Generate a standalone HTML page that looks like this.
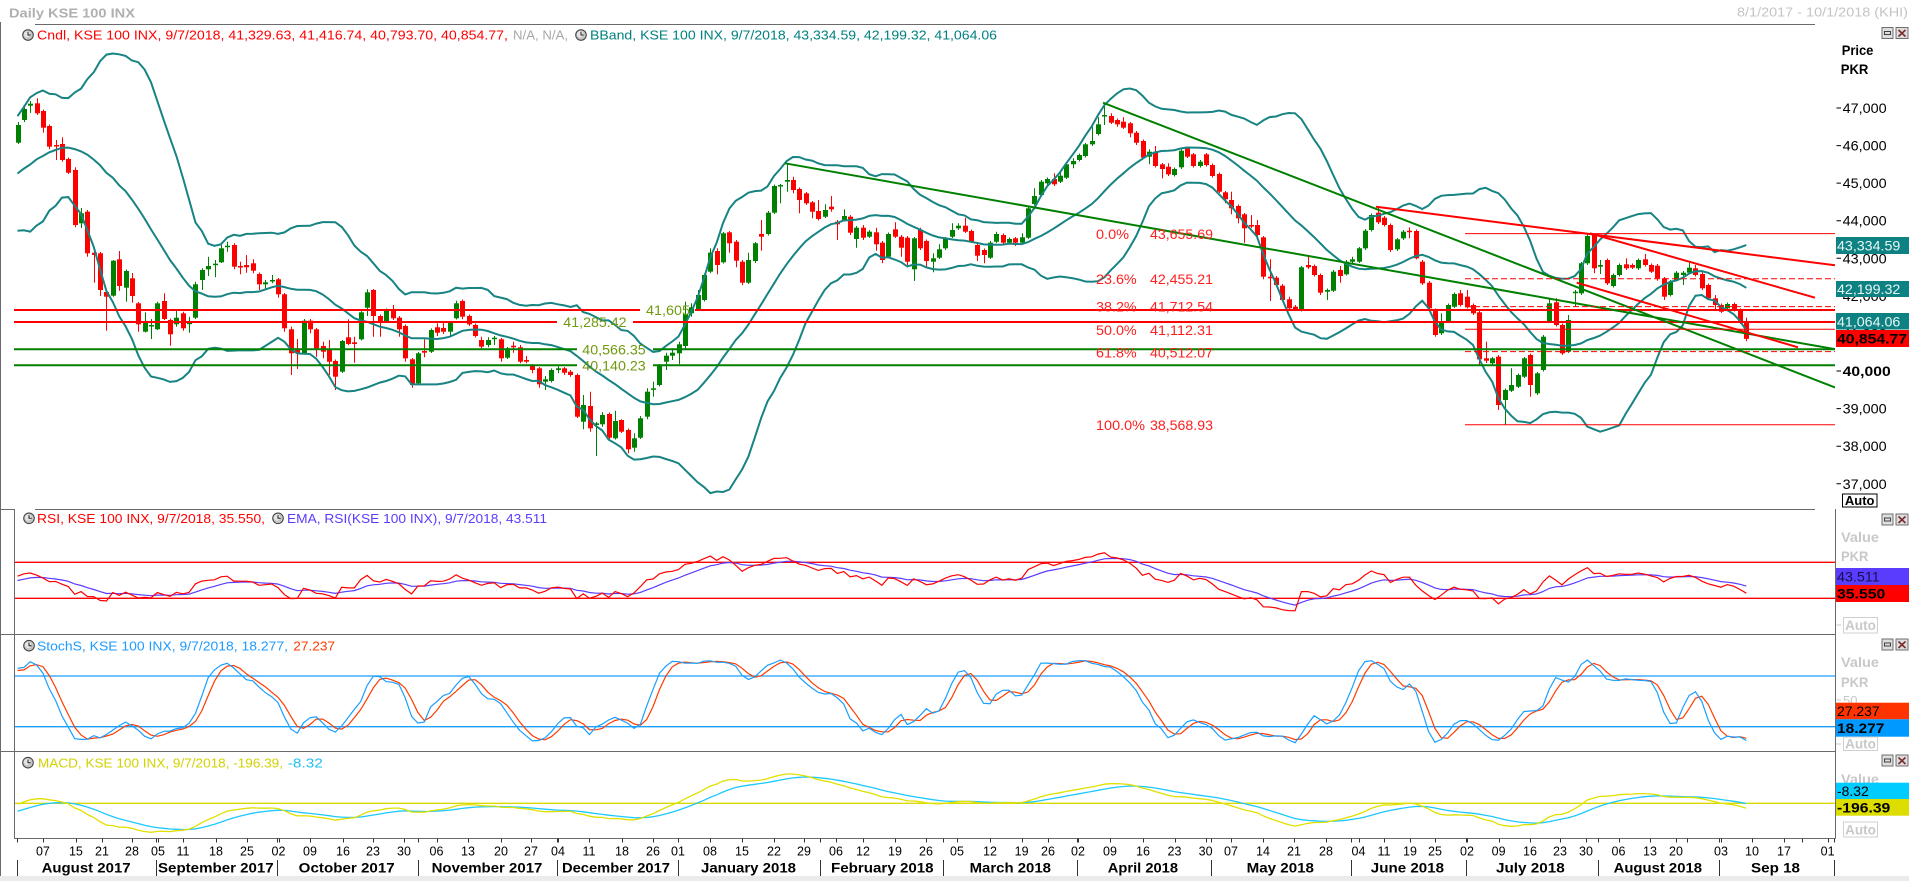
<!DOCTYPE html>
<html><head><meta charset="utf-8">
<style>
html,body{margin:0;padding:0;background:#fff;}
svg{display:block;font-family:"Liberation Sans",Arial,sans-serif;}
</style></head>
<body>
<svg id="s" width="1909" height="881" viewBox="0 0 1909 881" xmlns="http://www.w3.org/2000/svg">
<defs>
<symbol id="clk" viewBox="-6 -6 12 12" overflow="visible">
<circle cx="0" cy="0" r="5.3" fill="#c4c4c4" stroke="#3c3c3c" stroke-width="1"/>
<circle cx="-0.8" cy="-0.8" r="3.2" fill="#e6e6e6"/>
<path d="M0 -3.2 V0 H2.6" stroke="#202020" stroke-width="1" fill="none"/>
</symbol>
<symbol id="btn" overflow="visible">
<rect x="0.5" y="0.5" width="11" height="11" fill="#dedede" stroke="#6e6e6e"/>
<rect x="3" y="4.5" width="6" height="3" fill="none" stroke="#404040"/>
<rect x="14.5" y="0.5" width="12" height="11" fill="#dedede" stroke="#6e6e6e"/>
<path d="M17 3 L24 9.5 M24 3 L17 9.5" stroke="#7a2a2a" stroke-width="1.6"/>
</symbol>
<clipPath id="cm"><rect x="14" y="25" width="1821" height="484"/></clipPath>
<clipPath id="cr"><rect x="15" y="510" width="1820" height="124"/></clipPath>
<clipPath id="cs"><rect x="15" y="635" width="1820" height="116"/></clipPath>
<clipPath id="cd"><rect x="15" y="752" width="1820" height="86"/></clipPath>
</defs>

<!-- header -->
<text x="9" y="17.5" font-size="13" font-weight="bold" fill="#b0b0b0" textLength="126" lengthAdjust="spacingAndGlyphs">Daily KSE 100 INX</text>
<text x="1908" y="16.5" font-size="13" fill="#c4c4c4" text-anchor="end" textLength="171" lengthAdjust="spacingAndGlyphs">8/1/2017 - 10/1/2018 (KHI)</text>

<!-- frames -->
<g stroke="#6a6a6a" stroke-width="1" fill="none">
<path d="M35 24.5 H1815 M0 509.5 H14.5 M35 509.5 H1815 M0 634.5 H1835.5 M0 751.5 H1835.5 M14 838.5 H1835.5"/>
<path d="M0.5 22 V876 M14.5 509 V838.5 M1835.5 509 V838.5"/>
</g>

<!-- legends -->
<use href="#clk" x="22" y="29" width="12" height="12"/>
<text x="37" y="39.5" font-size="13" fill="#ff0000" textLength="471" lengthAdjust="spacingAndGlyphs">Cndl, KSE 100 INX, 9/7/2018, 41,329.63, 41,416.74, 40,793.70, 40,854.77,</text>
<text x="513" y="39.5" font-size="13" fill="#a8a8a8" textLength="55" lengthAdjust="spacingAndGlyphs">N/A, N/A,</text>
<use href="#clk" x="575" y="29" width="12" height="12"/>
<text x="590" y="39.5" font-size="13" fill="#008080" textLength="407" lengthAdjust="spacingAndGlyphs">BBand, KSE 100 INX, 9/7/2018, 43,334.59, 42,199.32, 41,064.06</text>

<use href="#clk" x="23" y="512.3" width="12" height="12"/>
<text x="37" y="523" font-size="13" fill="#ff0000" textLength="228" lengthAdjust="spacingAndGlyphs">RSI, KSE 100 INX, 9/7/2018, 35.550,</text>
<use href="#clk" x="272" y="512.3" width="12" height="12"/>
<text x="287" y="523" font-size="13" fill="#5a3cff" textLength="260" lengthAdjust="spacingAndGlyphs">EMA, RSI(KSE 100 INX), 9/7/2018, 43.511</text>

<use href="#clk" x="23" y="639.7" width="12" height="12"/>
<text x="37" y="650.4" font-size="13" fill="#1e9bff" textLength="251" lengthAdjust="spacingAndGlyphs">StochS, KSE 100 INX, 9/7/2018, 18.277,</text>
<text x="293.3" y="650.4" font-size="13" fill="#ff3c00" textLength="41.7" lengthAdjust="spacingAndGlyphs">27.237</text>

<use href="#clk" x="22" y="756.7" width="12" height="12"/>
<text x="38" y="767.4" font-size="13" fill="#d2d200" textLength="245" lengthAdjust="spacingAndGlyphs">MACD, KSE 100 INX, 9/7/2018, -196.39,</text>
<text x="287.8" y="767.4" font-size="13" fill="#1ec0f0" textLength="35" lengthAdjust="spacingAndGlyphs">-8.32</text>

<!-- main plot dynamic -->
<g clip-path="url(#cm)">
<g id="cand"></g>
<g id="bb" fill="none" stroke="#178383" stroke-width="2"></g>
<g fill="none" stroke-width="2">
<path d="M14 310 H640 M695 310 H1835 M14 322 H557 M633 322 H1835" stroke="#ff0000"/>
<path d="M14 349.3 H577 M653 349.3 H1835 M14 365.3 H577 M653 365.3 H1835" stroke="#008000"/>
<path d="M785 163.3 L1835 349.2 M1103 102.7 L1835 387.5" stroke="#008000"/>
<path d="M1376 206.7 L1835 265.3 M1590 233.3 L1815 297.7 M1576.7 282.7 L1798 347.3" stroke="#ff0000"/>
</g>
<g fill="none" stroke="#ff0000" stroke-width="1">
<path d="M1465 233.6 H1835 M1465 329.2 H1835 M1465 424.8 H1835"/>
<path d="M1465 278.7 H1835 M1465 306.6 H1835 M1465 351.6 H1835" stroke-dasharray="6 3"/>
</g>
</g>
<g font-size="14" fill="#6f9a10">
<text x="646" y="315" textLength="44" lengthAdjust="spacingAndGlyphs">41,605</text>
<text x="563.3" y="327" textLength="63.3" lengthAdjust="spacingAndGlyphs">41,285.42</text>
<text x="582.3" y="354.5" textLength="63.4" lengthAdjust="spacingAndGlyphs">40,566.35</text>
<text x="582.3" y="370.5" textLength="63.4" lengthAdjust="spacingAndGlyphs">40,140.23</text>
</g>
<g font-size="14" fill="#ff2020">
<text x="1096" y="239" textLength="33" lengthAdjust="spacingAndGlyphs">0.0%</text>
<text x="1150" y="239" textLength="63" lengthAdjust="spacingAndGlyphs">43,655.69</text>
<text x="1096" y="284" textLength="40.7" lengthAdjust="spacingAndGlyphs">23.6%</text>
<text x="1150" y="284" textLength="63" lengthAdjust="spacingAndGlyphs">42,455.21</text>
<text x="1096" y="311.7" textLength="40.7" lengthAdjust="spacingAndGlyphs">38.2%</text>
<text x="1150" y="311.7" textLength="63" lengthAdjust="spacingAndGlyphs">41,712.54</text>
<text x="1096" y="335" textLength="40.7" lengthAdjust="spacingAndGlyphs">50.0%</text>
<text x="1150" y="335" textLength="63" lengthAdjust="spacingAndGlyphs">41,112.31</text>
<text x="1096" y="357.3" textLength="40.7" lengthAdjust="spacingAndGlyphs">61.8%</text>
<text x="1150" y="357.3" textLength="63" lengthAdjust="spacingAndGlyphs">40,512.07</text>
<text x="1096" y="430" textLength="49" lengthAdjust="spacingAndGlyphs">100.0%</text>
<text x="1150" y="430" textLength="63" lengthAdjust="spacingAndGlyphs">38,568.93</text>
</g>

<!-- lower panel reference lines -->
<path d="M15 562.3 H1835 M15 598.3 H1835" stroke="#ff0000" stroke-width="1.3"/>
<path d="M15 676 H1835 M15 726.7 H1835" stroke="#1a9fff" stroke-width="1.3"/>
<path d="M15 803.3 H1835" stroke="#dada00" stroke-width="1.3"/>
<g id="rsi" clip-path="url(#cr)" fill="none" stroke-width="1.2"></g>
<g id="sto" clip-path="url(#cs)" fill="none" stroke-width="1.2"></g>
<g id="mac" clip-path="url(#cd)" fill="none" stroke-width="1.3"></g>

<!-- right axis main -->
<use href="#btn" x="1881.5" y="27"/>
<text x="1841.7" y="55" font-size="14" font-weight="bold" fill="#000" textLength="31.7" lengthAdjust="spacingAndGlyphs">Price</text>
<text x="1840.7" y="74" font-size="14" font-weight="bold" fill="#000" textLength="27.7" lengthAdjust="spacingAndGlyphs">PKR</text>
<g font-size="14" fill="#000">
<path d="M1836.5 108 H1841 M1836.5 145.6 H1841 M1836.5 183.1 H1841 M1836.5 220.7 H1841 M1836.5 258.3 H1841 M1836.5 295.9 H1841 M1836.5 333.5 H1841 M1836.5 371 H1841 M1836.5 408.6 H1841 M1836.5 446.2 H1841 M1836.5 483.8 H1841" stroke="#000"/>
<text x="1842.7" y="113" textLength="44" lengthAdjust="spacingAndGlyphs">47,000</text>
<text x="1842.7" y="150.6" textLength="44" lengthAdjust="spacingAndGlyphs">46,000</text>
<text x="1842.7" y="188.1" textLength="44" lengthAdjust="spacingAndGlyphs">45,000</text>
<text x="1842.7" y="225.7" textLength="44" lengthAdjust="spacingAndGlyphs">44,000</text>
<text x="1842.7" y="263.3" textLength="44" lengthAdjust="spacingAndGlyphs">43,000</text>
<text x="1842.7" y="300.9" textLength="44" lengthAdjust="spacingAndGlyphs">42,000</text>
<text x="1842.7" y="338.5" textLength="44" lengthAdjust="spacingAndGlyphs">41,000</text>
<text x="1842.7" y="376" font-weight="bold" textLength="48" lengthAdjust="spacingAndGlyphs">40,000</text>
<text x="1842.7" y="413.6" textLength="44" lengthAdjust="spacingAndGlyphs">39,000</text>
<text x="1842.7" y="451.2" textLength="44" lengthAdjust="spacingAndGlyphs">38,000</text>
<text x="1842.7" y="488.8" textLength="44" lengthAdjust="spacingAndGlyphs">37,000</text>
</g>
<rect x="1836" y="237" width="73" height="17" fill="#0e8282"/>
<text x="1837" y="250.5" font-size="14" fill="#e8f6f6" textLength="63.3" lengthAdjust="spacingAndGlyphs">43,334.59</text>
<rect x="1836" y="281" width="73" height="16" fill="#0e8282"/>
<text x="1837" y="294" font-size="14" fill="#e8f6f6" textLength="63.3" lengthAdjust="spacingAndGlyphs">42,199.32</text>
<rect x="1836" y="313" width="73" height="16.5" fill="#0e8282"/>
<text x="1837" y="326.3" font-size="14" fill="#e8f6f6" textLength="63.3" lengthAdjust="spacingAndGlyphs">41,064.06</text>
<rect x="1836" y="330" width="73" height="17" fill="#ff0000"/>
<text x="1837" y="343.5" font-size="14" font-weight="bold" fill="#000" textLength="70" lengthAdjust="spacingAndGlyphs">40,854.77</text>
<rect x="1842.5" y="494" width="34.5" height="13" fill="#fff" stroke="#000"/>
<text x="1859.7" y="505" font-size="13" font-weight="bold" fill="#000" text-anchor="middle">Auto</text>

<!-- RSI axis -->
<use href="#btn" x="1881.5" y="513.5"/>
<text x="1841" y="542" font-size="14" font-weight="bold" fill="#c8c8c8" textLength="38" lengthAdjust="spacingAndGlyphs">Value</text>
<text x="1841" y="561" font-size="14" font-weight="bold" fill="#c8c8c8" textLength="27.3" lengthAdjust="spacingAndGlyphs">PKR</text>
<rect x="1836" y="568" width="73" height="17" fill="#5a3cff"/>
<text x="1837" y="581.5" font-size="14" fill="#12124a" textLength="42.7" lengthAdjust="spacingAndGlyphs">43.511</text>
<rect x="1836" y="585" width="73" height="17" fill="#ff0000"/>
<text x="1837" y="598.5" font-size="14" font-weight="bold" fill="#000" textLength="48.3" lengthAdjust="spacingAndGlyphs">35.550</text>
<path d="M1836.5 625 H1841" stroke="#c8c8c8"/>
<rect x="1843.5" y="617.5" width="34" height="15.5" fill="#fff" stroke="#d0d0d0"/>
<text x="1860.5" y="630" font-size="13.5" font-weight="bold" fill="#c8c8c8" text-anchor="middle">Auto</text>

<!-- Stoch axis -->
<use href="#btn" x="1881.5" y="638.5"/>
<text x="1841" y="667" font-size="14" font-weight="bold" fill="#c8c8c8" textLength="38" lengthAdjust="spacingAndGlyphs">Value</text>
<text x="1841" y="687" font-size="14" font-weight="bold" fill="#c8c8c8" textLength="27.3" lengthAdjust="spacingAndGlyphs">PKR</text>
<path d="M1836.5 700 H1841" stroke="#c8c8c8"/>
<text x="1843" y="705" font-size="13" fill="#c8c8c8">50</text>
<rect x="1836" y="702.7" width="73" height="16.6" fill="#ff3300"/>
<text x="1837" y="716" font-size="14" fill="#000" textLength="42.7" lengthAdjust="spacingAndGlyphs">27.237</text>
<rect x="1836" y="719.3" width="73" height="17.4" fill="#0099ff"/>
<text x="1837" y="733" font-size="14" font-weight="bold" fill="#000" textLength="47.3" lengthAdjust="spacingAndGlyphs">18.277</text>
<path d="M1836.5 744 H1841" stroke="#c8c8c8"/>
<rect x="1843.5" y="737" width="34" height="13.5" fill="#fff" stroke="#d0d0d0"/>
<text x="1860.5" y="748.5" font-size="13.5" font-weight="bold" fill="#c8c8c8" text-anchor="middle">Auto</text>

<!-- MACD axis -->
<use href="#btn" x="1881.5" y="754.5"/>
<text x="1841" y="784" font-size="14" font-weight="bold" fill="#c8c8c8" textLength="38" lengthAdjust="spacingAndGlyphs">Value</text>
<rect x="1836" y="782.7" width="73" height="16.3" fill="#00ccff"/>
<text x="1837" y="795.8" font-size="14" fill="#000" textLength="31.7" lengthAdjust="spacingAndGlyphs">-8.32</text>
<rect x="1836" y="799" width="73" height="16.7" fill="#dddd00"/>
<text x="1837" y="812.5" font-size="14" font-weight="bold" fill="#000" textLength="53.3" lengthAdjust="spacingAndGlyphs">-196.39</text>
<rect x="1843.5" y="822" width="34" height="15" fill="#fff" stroke="#d0d0d0"/>
<text x="1860.5" y="834.3" font-size="13.5" font-weight="bold" fill="#c8c8c8" text-anchor="middle">Auto</text>

<!-- date axis -->
<g id="dates" font-size="12.5" fill="#000" text-anchor="middle"></g>
<g id="months" font-size="14" font-weight="bold" fill="#000"></g>
<rect x="0" y="876" width="1909" height="5" fill="#ebebeb"/>
</svg>
<script>
(function(){
var NS='http://www.w3.org/2000/svg';
function el(tag,attrs,parent){var e=document.createElementNS(NS,tag);for(var k in attrs)e.setAttribute(k,attrs[k]);parent.appendChild(e);return e;}
var raw="142.7 122 144 125,120 107 122 109,105.7 101 113 103.7,103.3 98.3 115 113.3,111 109.5 132.7 127.7,126 124.5 149.3 146.7,145 140 160 146,144 137.3 161.7 160,159 157.5 174 172.7,170 167.3 227.3 225,"+
"223.3 208 228 213.3,211.7 210 256.7 253.3,252.7 251 282.7 255,253.3 252 296 290,292 290 330.7 296.7,295.7 260 296.7 260.7,259.3 251 290.7 286,287.7 269.5 301.7 271,278.3 273 302.7 296,303.3 302 331.7 324.3,"+
"331.7 312.3 332.5 321.7,326 319 339 325,329.3 301.7 330 303.3,301 293.3 320 319,320 318.5 345.7 334.3,324.3 311 326.7 317.7,313.3 311.7 330.7 328.3,324 316.7 332.7 322.7,317.7 281.7 319 284.3,280 268.3 290 270,"+
"269.3 256.7 276 266,264.3 260 277.3 263.7,262.3 245 263 248.3,246.7 241.7 251.7 245.7,245 243.3 269.3 266.7,266 261.7 274.3 267.3,265 255 272.7 267.3,263.3 259.3 273.3 270.7,274 272.5 290 284.3,284.3 280 289.3 282.3,"+
"281 275 283.3 280,279.3 278 297.7 294.3,294.3 293 331.7 328.3,329.3 326.7 375 353.3,348.3 339 369 352.7,353.3 319 354.5 320.7,320.7 319 333.3 329.3,329.3 328 356.7 348.3,346 341.7 358.3 351.7,349.3 340 375 361.7,"+
"361 359.5 390 376.7,371.7 340 373 341,337.3 319.3 345.3 344,342.3 336.7 362.7 344,339.3 311 340.5 312.3,307.7 289.3 316 292.3,290 289 336.7 316,316 314.5 336.7 321.7,321 308.5 322.5 310,309.3 305 320 318.3,"+
"317.7 316 336.7 329.3,326 324.5 361.7 358.3,359.3 358 387.7 385,383.3 352 385 353.3,351 339.3 357.3 352.7,351.7 328.5 353 330,327.3 323.3 336 332.7,328 321.7 334 331.7,331.7 321 336 322.7,318.3 300.7 319.5 303.3,"+
"301 299.5 319.3 316.7,316 314.5 326 324.3,325 323.5 337.5 336,340 336.7 348.3 346.7,345 337.3 347.3 340,338.3 336 345 337.7,339.3 338 361.7 358.3,357.7 347 359 348.3,345.7 341.7 352.7 347.3,347.3 345 363.3 361.7,"+
"360 356 363.3 361.7,365.7 364 373.3 370,368.3 367 387.7 384.3,381.7 376 390 379.3,381 368.5 382.5 370,370 366 373.3 368.3,368.3 367 375 372.7,371.7 370 376.7 375,375 373.5 418 416.7,421.7 395 429.3 405,"+
"406 391.7 431.7 428.3,425 422 456 423.3,424.3 412.3 426.7 415,414 412.5 439 437.7,438.3 410.7 439.5 421,420 419.3 433 431.7,430 428.5 453.3 449.3,447.7 433.3 451.7 438.3,437.7 416 439 418.3,416.7 388.3 419.3 391.7,"+
"389.3 381.7 396.7 388.3,385 364 386.5 365,361.7 352.7 370 355.7,355.7 348.3 360 352.7,353.3 341.7 364 344.3,346 301.7 350 314,313.3 303.3 316.7 307.3,309.3 290 310.5 295,300 273.5 301.5 275,271.7 248.3 273.3 252.7,"+
"251 248.3 274.3 265,262.3 232 263.5 233.3,232.3 231 252.7 243.3,241.7 240 267.3 260.7,261.7 260 285 282.7,282.7 252.7 284 260,261 242 263 243.3,234 220 250.7 236.7,234 211 235.5 212.7,212.7 184.5 214 186,"+
"186 184 203.3 185,181.7 163.3 191.7 180,180 176.7 193.3 190,189 187.5 213.3 200,193.3 192 205 203.3,202.3 201 218.3 211.7,211 200 220.5 219,216.7 204.3 218 210,206.7 196 211.7 209.3,221.7 220 240 224.3,"+
"220 209.3 221.5 216,216.7 215 235 232.7,239 226 247.7 227.7,227.7 225 240 237.7,236.7 230 238 231.7,232.3 227.7 250.7 244.3,242.7 241 263.3 260,256.7 232.5 258 234,229.3 222.3 238 236.7,236.7 235 256.7 247.7,"+
"237.7 236 265 261.7,269.3 237 281 238.3,230 227.7 250 248.3,241 239.5 266.7 261,261.7 253.3 272.3 258.3,257.7 244.3 259 249.3,248.3 237 250 238.3,236.7 223.3 238 230,228.3 223.3 230 225.7,225.7 217.7 233 231.7,"+
"231 229.5 242.7 241.7,245 243.5 261 255.7,250 248.5 263.3 255,257.7 241 259 242.7,241.7 231.7 243 234,235 233.5 244 242.7,242.7 237.5 244 239,238.3 237 246 242.7,242.7 233.3 244 237.3,237.7 207 239 208.3,"+
"204 188.3 205.5 196,195 180 196.5 181.7,183.3 177.5 185 179,179 173.3 186 184.3,181.7 171.7 183 175.7,177.7 163 179 164.3,164.3 158.3 168.3 161,160 153.5 161.5 155,156 143 157.5 144.3,144.3 126.7 146 141,"+
"134 117.3 135.5 124.3,116 102.7 125 115,116 113.3 124 122.7,120 118.5 126.7 124.3,121.7 117.3 129 127.7,123.3 122 137.3 133.3,132.7 131 145 142.7,141 139.5 159 157.7,156.7 149.3 164.3 151.7,151.7 146 167.5 166,"+
"164.3 163 178.3 169,166.7 163.3 176 174.3,175 167.5 176.5 169,167.3 149 169 150.7,148.3 147 158 156.7,154.3 153 167.5 166,166 160 167.5 161.7,154.3 153 166.5 165,165 163.5 177.5 176,174 172.5 193 191.7,"+
"192.3 191 203.3 199.3,200 191.7 214.3 208.3,206 204.5 223.3 218.3,214.3 213 242.7 228.3,225 215 228 226,225 220 236.5 235,237.3 236 279.3 276.7,276.7 259.3 301 278.3,277.7 276 286.5 285,285.7 284 301.5 300,"+
"299.3 296.7 310 308.3,306.7 305 311 309.3,310 266 311.5 267.3,265 256.7 269 267.3,266 264.5 276.5 275,275 273.5 295 292.7,291.7 288.5 300 290,290.7 270 292 271.7,270 266 282.7 276,274.3 260 275.5 261.7,"+
"261.7 256.7 264 259.3,261.7 247 263 248.3,248.3 229 250 230.7,230 213.5 231.5 215,212.7 206.7 224 222.3,217.7 216 226.5 225,225 223.5 252 250,249.3 238 251 239.3,238.3 230 240 231.7,230.7 227.3 238.3 231.7,"+
"231 229.5 259.3 258.3,261.7 260 285 283.3,282.7 281 310 308.3,310 308.5 336.7 335,333.3 313.3 335 321.7,321.7 303.5 323 305,306.7 292.5 308 294,293.3 290 306.5 305,296.7 290 308.5 307.3,305 303.5 315 313.3,"+
"312.3 311 366 359.3,358.3 341.7 363 360.7,363.3 357 365 358.3,356.7 355 410 405,400 388.5 424.8 390,390.7 368.3 392 385,386.7 373.5 388 375,376.7 357 378 358.3,355 353.5 396.7 385,393.3 372 395 373.3,"+
"370 335 371.5 336.7,321.7 299.3 323 303.3,302.3 298.3 326.5 325,325 323.5 355 353.3,351.7 315 353 320,292.7 290 306.7 291.7,293.3 262 295 263.3,263.3 233.5 265 236,235 233.5 273.3 268.3,266.7 260 274 265,"+
"260 258.5 285 283.3,286 273.5 287.5 275,275 263.5 276.5 265,264.3 258.3 270 268.3,265 263.5 269 267.7,268.3 258.5 270 260,259.3 254 266.5 265,265 263.5 273 271.7,265.7 264 280.7 278.3,278.3 277 300 296.7,"+
"295 280 296.5 281.7,280 271 281.5 272.7,275 271 285 272.7,272.7 262.7 274 267.7,268.3 265 276.5 275,274 272.5 290 288.3,285 283.5 300 298.3,298.3 295 310 305,305 303.5 313 311.7,308.3 302.5 310 304,"+
"304 302.5 311.5 310,310 308.5 324 322.7,321 317.8 341.2 338.9";
var rows=raw.split(',').map(function(s){return s.trim().split(/\s+/).map(Number);});
var K=0.03757;
function toP(y){return 47000-(y-108)/K;}
function toY(p){return 108+(47000-p)*K;}
function X(t){return 17.5+6.356*t;}
var N=rows.length;

var cg=document.getElementById('cand');
for(var t=0;t<N;t++){
  var r=rows[t],o=r[0],h=r[1],l=r[2],c=r[3];
  var xc=Math.round(X(t));
  var top=Math.min(o,c),bot=Math.max(o,c);if(bot-top<1.5){bot=top+1.5;}
  var col=(c<o)?'#008000':'#ff0000';
  el('path',{d:'M'+(xc+0.5)+' '+h.toFixed(1)+'V'+l.toFixed(1),stroke:col,'stroke-width':1},cg);
  el('rect',{x:xc-2,y:top.toFixed(1),width:5,height:(bot-top).toFixed(1),fill:col},cg);
}

var pre=[];
for(var i=0;i<41;i++)pre.push(52000-7000*i/40+250*Math.sin(i*1.7));
[44400,44900,44100,44700,44000,44800,44400,45200,44700,45400,44900,45700,45200,46000,45500,46300,45800,46500,46100].forEach(function(v){pre.push(v);});
var C=[],H=[],L=[];
pre.forEach(function(v){C.push(v);H.push(v+150);L.push(v-150);});
rows.forEach(function(r){C.push(toP(r[3]));H.push(toP(r[1]));L.push(toP(r[2]));});
var N0=pre.length,M=C.length;
function path(vals,fy){var d='';for(var t=0;t<N;t++){var v=vals[N0+t];if(v==null||isNaN(v))continue;d+=(d?'L':'M')+X(t).toFixed(1)+' '+fy(v).toFixed(1);}return d;}

var up=[],mid=[],lo=[];
for(var i=19;i<M;i++){var s=0;for(var j=i-19;j<=i;j++)s+=C[j];var m=s/20,v=0;for(var j=i-19;j<=i;j++)v+=(C[j]-m)*(C[j]-m);var sd=Math.sqrt(v/20);up[i]=m+2*sd;mid[i]=m;lo[i]=m-2*sd;}
var bg=document.getElementById('bb');
[up,mid,lo].forEach(function(a){el('path',{d:path(a,toY)},bg);});

var rsi=[],ag=0,al=0;
for(var i=1;i<=14;i++){var d=C[i]-C[i-1];if(d>0)ag+=d;else al-=d;}
ag/=14;al/=14;rsi[14]=100-100/(1+ag/al);
for(var i=15;i<M;i++){var d=C[i]-C[i-1];ag=(ag*13+(d>0?d:0))/14;al=(al*13+(d<0?-d:0))/14;rsi[i]=al==0?100:100-100/(1+ag/al);}
var ema=[];ema[14]=rsi[14];for(var i=15;i<M;i++)ema[i]=ema[i-1]+0.2*(rsi[i]-ema[i-1]);
var ry=function(v){return 625.3-0.9*v;};
var rg=document.getElementById('rsi');
el('path',{d:path(ema,ry),stroke:'#5a3cff'},rg);
el('path',{d:path(rsi,ry),stroke:'#ff0000'},rg);

var fk=[],sk=[],sdd=[];
for(var i=13;i<M;i++){var hh=-1e9,ll=1e9;for(var j=i-13;j<=i;j++){if(H[j]>hh)hh=H[j];if(L[j]<ll)ll=L[j];}fk[i]=100*(C[i]-ll)/(hh-ll);}
for(var i=15;i<M;i++)sk[i]=(fk[i]+fk[i-1]+fk[i-2])/3;
for(var i=17;i<M;i++)sdd[i]=(sk[i]+sk[i-1]+sk[i-2])/3;
var sy=function(v){return 743.6-0.845*v;};
var sg=document.getElementById('sto');
el('path',{d:path(sdd,sy),stroke:'#ff3c00'},sg);
el('path',{d:path(sk,sy),stroke:'#1a9fff'},sg);

var e12=C[0],e26=C[0],mac=[],sig=[];
for(var i=0;i<M;i++){e12+=(2/13)*(C[i]-e12);e26+=(2/27)*(C[i]-e26);mac[i]=e12-e26;sig[i]=i==0?mac[0]:sig[i-1]+0.2*(mac[i]-sig[i-1]);}
var mx=1;for(var t=0;t<N;t++){mx=Math.max(mx,mac[N0+t],sig[N0+t]);}
var mk=(803.3-774)/mx;
var my=function(v){return 803.3-mk*v;};
var mg=document.getElementById('mac');
el('path',{d:path(sig,my),stroke:'#1ec8ff'},mg);
el('path',{d:path(mac,my),stroke:'#e0e000'},mg);

var dg=document.getElementById('dates');
var days=[["07",42.9],["15",75.9],["21",102],["28",132],["05",158],["11",183],["18",216],["25",247],["02",278.5],["09",310],["16",343],["23",373],["30",404],["06",436.5],["13",468],["20",501],["27",531],["04",558],["11",589],["18",622],["26",653],["01",678],["08",710],["15",742],["22",774],["29",804],["06",836],["12",863],["19",895],["26",926],["05",957],["12",990],["19",1021.6],["26",1048],["02",1078],["09",1110],["16",1143],["23",1174.5],["30",1205.6],["07",1231],["14",1263],["21",1294],["28",1326],["04",1358.5],["11",1384],["19",1410],["25",1435],["02",1467],["09",1498.6],["16",1530],["23",1560],["30",1586],["06",1618.5],["13",1650],["20",1676],["",1687],["03",1721],["10",1752],["17",1784],["",1801.7],["01",1827.6]];
var tk='';
days.forEach(function(d){var x=Math.round(d[1])+0.5;tk+='M'+x+' 838.5V842.5';if(d[0]){var tx=el('text',{x:d[1],y:855.3},dg);tx.textContent=d[0];}});
var seps=[17,156,277,417.5,557,678,820,943,1077,1211,1350.6,1465.6,1598,1719,1834];
var sp='';seps.forEach(function(x){var xx=Math.round(x)+0.5;sp+='M'+xx+' 860V876';tk+='M'+xx+' 838.5V842.5';});
el('path',{d:tk,stroke:'#333','stroke-width':1},dg);
el('path',{d:sp,stroke:'#333','stroke-width':1},dg);
var mg2=document.getElementById('months');
var months=[["August 2017",41.6,89],["September 2017",158,115.7],["October 2017",298.7,96],["November 2017",431.6,110.8],["December 2017",562,108],["January 2018",701,95],["February 2018",831,102.6],["March 2018",969.6,81.4],["April 2018",1107.8,70.2],["May 2018",1246.6,67.4],["June 2018",1370.8,73.2],["July 2018",1496,68.7],["August 2018",1613.6,88.4],["Sep 18",1751,49]];
months.forEach(function(m){var tx=el('text',{x:m[1],y:872.5,textLength:m[2],lengthAdjust:'spacingAndGlyphs'},mg2);tx.textContent=m[0];});
})();
</script>
</body></html>
